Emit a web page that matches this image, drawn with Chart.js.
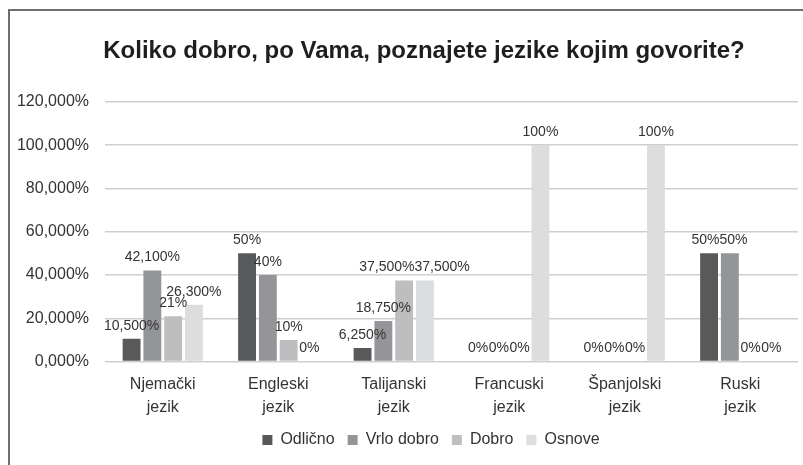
<!DOCTYPE html>
<html>
<head>
<meta charset="utf-8">
<script src="https://cdn.jsdelivr.net/npm/chart.js@4"></script>
<style>
  body { margin: 0; background: #fff; }
  #frame {
    position: absolute; left: 8px; top: 9px; width: 800px; height: 460px;
    border-top: 2px solid #6e6e6e; border-left: 2px solid #6e6e6e;
  }
  #chart { position: absolute; left: 0; top: 0; }
</style>
</head>
<body>
<div id="frame"></div>
<canvas id="chart" width="803" height="465"></canvas>
<script>
const categories = [
    ['Njemački', 'jezik'],
    ['Engleski', 'jezik'],
    ['Talijanski', 'jezik'],
    ['Francuski', 'jezik'],
    ['Španjolski', 'jezik'],
    ['Ruski', 'jezik']
];
const seriesNames = ['Odlično', 'Vrlo dobro', 'Dobro', 'Osnove'];
const odlicno = [10.5, 50, 6.25, 0, 0, 50];
const vrloDobro = [42.1, 40, 18.75, 0, 0, 50];
const dobro = [21, 10, 37.5, 0, 0, 0];
const osnove = [26.3, 0, 37.5, 100, 100, 0];
// labels as printed on the chart (mixed formats in the original)
const odlicnoLabels = ['10,500%', '50%', '6,250%', '0%', '0%', '50%'];
const vrloDobroLabels = ['42,100%', '40%', '18,750%', '0%', '0%', '50%'];
const dobroLabels = ['21%', '10%', '37,500%', '0%', '0%', '0%'];
const osnoveLabels = ['26,300%', '0%', '37,500%', '100%', '100%', '0%'];
const yTickLabels = ['0,000%', '20,000%', '40,000%', '60,000%', '80,000%', '100,000%', '120,000%'];

const colors = ['#58595b', '#939598', '#bcbec0', '#dcdddf'];
const allValues = [odlicno, vrloDobro, dobro, osnove];
const allLabels = [odlicnoLabels, vrloDobroLabels, dobroLabels, osnoveLabels];

const FONT = '"Liberation Sans", Arial, sans-serif';

// draws the value labels over the bars, nudging apart ones that collide
const valueLabels = {
    id: 'valueLabels',
    afterDatasetsDraw(chart) {
        const ctx = chart.ctx;
        ctx.save();
        ctx.font = '14px ' + FONT;
        ctx.fillStyle = '#333';
        ctx.textAlign = 'center';
        ctx.textBaseline = 'middle';
        for (let i = 0; i < categories.length; i++) {
            let boxes = [];
            chart.data.datasets.forEach(function (ds, d) {
                const bar = chart.getDatasetMeta(d).data[i];
                const text = allLabels[d][i];
                const w = ctx.measureText(text).width;
                boxes.push({ text: text, x: bar.x, y: bar.y - 13, w: w });
            });
            for (let k = 1; k < boxes.length; k++) {
                const a = boxes[k - 1], b = boxes[k];
                const overlapX = (a.w + b.w) / 2 - (b.x - a.x);
                if (overlapX > 0 && Math.abs(a.y - b.y) < 11) {
                    a.x -= overlapX / 2;
                    b.x += overlapX / 2;
                }
            }
            boxes.forEach(function (b) {
                ctx.fillText(b.text, b.x, b.y);
            });
        }
        ctx.restore();
    }
};

// the original centres title and legend a bit right of the canvas middle
const nudgeBoxes = {
    id: 'nudgeBoxes',
    afterLayout(chart) {
        const t = chart.titleBlock;
        t.left += 16; t.right += 16;
        const l = chart.legend;
        l.left += 23; l.right += 23;
        l.top -= 3; l.bottom -= 3;
    }
};

new Chart(document.getElementById('chart'), {
    type: 'bar',
    data: {
        labels: categories,
        datasets: seriesNames.map(function (name, d) {
            return {
                label: name,
                data: allValues[d],
                backgroundColor: colors[d],
                categoryPercentage: 0.72,
                barPercentage: 0.86
            };
        })
    },
    options: {
        responsive: false,
        animation: false,
        layout: { padding: { left: 18, right: 5, top: 37, bottom: 4 } },
        plugins: {
            title: {
                display: true,
                text: 'Koliko dobro, po Vama, poznajete jezike kojim govorite?',
                color: '#1e1e1e',
                font: { family: FONT, size: 24, weight: 'bold' },
                padding: { top: 0, bottom: 36 }
            },
            legend: {
                position: 'bottom',
                labels: {
                    color: '#333',
                    font: { family: FONT, size: 16 },
                    boxWidth: 10,
                    boxHeight: 10,
                    padding: 13
                }
            },
            tooltip: { enabled: false }
        },
        scales: {
            x: {
                grid: { display: false },
                border: { display: false },
                ticks: {
                    color: '#333',
                    font: { family: FONT, size: 16, lineHeight: 1.45 },
                    padding: 3,
                    maxRotation: 0
                }
            },
            y: {
                min: 0,
                max: 120,
                border: { display: false },
                grid: { color: '#cfcfcf', lineWidth: 1.5, drawTicks: false },
                ticks: {
                    stepSize: 20,
                    color: '#333',
                    font: { family: FONT, size: 16 },
                    padding: 16,
                    callback: function (value, index) {
                        return yTickLabels[index];
                    }
                },
                afterFit: function (scale) {
                    scale.width = 87;
                }
            }
        }
    },
    plugins: [valueLabels, nudgeBoxes]
});
</script>
</body>
</html>
